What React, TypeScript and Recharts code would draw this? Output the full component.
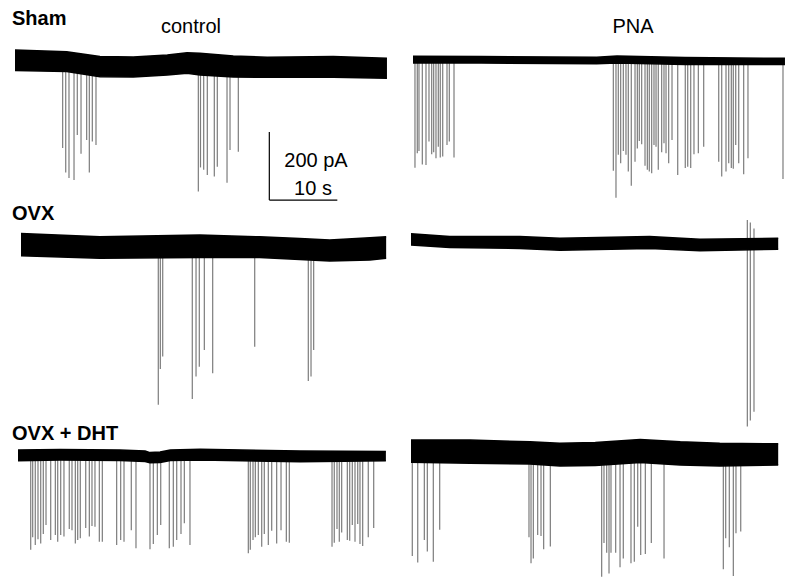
import React from "react";
import { ComposedChart, Area, XAxis, YAxis, ReferenceLine } from "recharts";

// ---------- Data (time in s, current in pA relative to holding level) ----------
// Sham / control
const shamCtrlBandT = [0, 7.6, 12.5, 17.4, 22.4, 25.3, 27.2, 32.1, 37.1, 46.8, 54.7];
const shamCtrlBandUp = [32, 27, 13, 12, 18, 24, 23, 15, 11, 13, 8];
const shamCtrlBandLo = [-28, -31, -46, -47, -41, -36, -41, -47, -48, -48, -51];
const shamCtrlSpikeT = [7.01, 7.46, 7.94, 8.68, 9.16, 9.71, 10.54, 10.93, 11.37, 11.91, 26.96, 27.28, 27.75, 28.28, 29.31, 29.75, 31.18, 31.62, 32.84];
const shamCtrlSpikeAmp = [-256, -328, -344, -350, -218, -273, -232, -328, -237, -247, -384, -313, -320, -335, -340, -311, -358, -262, -267];

// Sham / PNA
const shamPnaBandT = [0, 10, 27, 30, 40, 54.7];
const shamPnaBandUp = [11, 10, 8, 12, 7, 5];
const shamPnaBandLo = [-9, -9, -11, -9, -13, -13];
const shamPnaSpikeT = [0.29, 0.63, 0.88, 1.37, 1.91, 2.35, 2.75, 3.04, 3.38, 3.72, 4.01, 4.37, 5.0, 5.34, 6.03,
  29.46, 29.85, 30.19, 30.54, 30.93, 31.32, 31.66, 32.1, 32.65, 32.99, 33.28, 33.63, 34.12, 34.46, 34.75, 35.1, 35.44, 35.74, 36.07, 36.57,
  36.91, 37.21, 37.6, 38.09, 38.93, 40.04, 40.4, 40.84, 41.32, 41.96, 42.75, 44.96, 45.4, 46.03, 46.43, 46.81, 47.1, 47.46, 47.9, 48.63, 49.26, 54.41];
const shamPnaSpikeAmp = [-317, -274, -268, -307, -309, -240, -277, -271, -289, -255, -287, -284, -250, -240, -287,
  -326, -405, -279, -304, -268, -279, -328, -370, -299, -260, -238, -248, -311, -323, -328, -333, -250, -255, -323, -271,
  -245, -274, -304, -235, -338, -318, -314, -318, -277, -274, -255, -299, -343, -328, -304, -318, -320, -250, -304, -336, -289, -350];

// OVX / control
const ovxCtrlBandT = [0, 11.6, 26.3, 35.1, 41, 45.4, 51.3, 53.7];
const ovxCtrlBandUp = [37, 27, 32, 27, 22, 18, 24, 27];
const ovxCtrlBandLo = [-29, -36, -34, -34, -40, -44, -41, -36];
const ovxCtrlSpikeT = [20.19, 20.49, 20.84, 25.19, 25.74, 26.22, 26.96, 28.19, 34.37, 42.25, 42.65, 43.04];
const ovxCtrlSpikeAmp = [-467, -362, -325, -450, -384, -355, -306, -374, -296, -397, -384, -306];

// OVX / PNA
const ovxPnaBandT = [0, 5.7, 16, 21.9, 35.1, 42.5, 54];
const ovxPnaBandUp = [24, 16, 16, 11, 16, 8, 11];
const ovxPnaBandLo = [-9, -16, -19, -24, -19, -26, -21];
const ovxPnaSpikeT = [49.46, 49.9, 50.44];
const ovxPnaSpikeAmp = [-543, -525, -499];
const ovxPnaSpikeTop = [65, 57, 40];

// OVX + DHT / control
const dhtCtrlBandT = [0, 6.2, 15, 18.7, 19.4, 20.9, 22.4, 26.8, 41.5, 54.1];
const dhtCtrlBandUp = [15, 16, 15, 12, 7, 9, 15, 17, 12, 10];
const dhtCtrlBandLo = [-17, -15, -16, -19, -23, -22, -16, -15, -20, -17];
const dhtCtrlSpikeT = [1.87, 2.16, 2.54, 2.94, 3.34, 3.72, 4.12, 4.81, 5.49, 5.84, 6.28, 6.76, 7.54, 7.94, 8.43, 8.78, 9.16, 9.96, 10.49, 10.88,
  11.32, 11.96, 12.4, 14.51, 15.1, 15.59, 16.66, 17.35, 19.41, 19.9, 20.49, 20.99, 22.25, 22.84, 23.34, 23.97, 24.46, 25.29,
  33.87, 34.16, 34.56, 34.9, 35.34, 35.84, 36.22, 36.81, 37.31, 38.04, 38.68, 39.46, 39.9,
  46.18, 46.51, 46.91, 47.25, 47.6, 48.43, 48.78, 49.16, 49.56, 49.96, 50.29, 50.69, 51.51, 52.31];
const dhtCtrlSpikeAmp = [-279, -242, -265, -248, -260, -232, -206, -250, -235, -255, -235, -240, -218, -221, -260, -250, -245, -215, -240, -209,
  -211, -255, -255, -265, -250, -255, -221, -274, -277, -262, -235, -206, -274, -270, -250, -232, -201, -265,
  -289, -279, -250, -242, -235, -270, -232, -265, -223, -260, -221, -255, -258,
  -270, -258, -218, -255, -228, -250, -252, -206, -255, -203, -262, -268, -242, -215];

// OVX + DHT / PNA
const dhtPnaBandT = [0, 8.7, 17.5, 21.9, 27.1, 33.7, 39.6, 45.4, 54];
const dhtPnaBandUp = [35, 35, 30, 26, 28, 37, 30, 26, 24];
const dhtPnaBandLo = [-30, -33, -35, -41, -40, -31, -38, -41, -38];
const dhtPnaSpikeT = [0.19, 0.99, 1.96, 2.4, 3.28, 4.22, 17.35, 17.65, 17.99, 18.63, 19.12, 19.51, 20.49,
  28.04, 28.38, 28.78, 29.12, 29.41, 30.1, 30.74, 31.22, 32.35, 32.84, 33.34, 33.78, 34.46, 35.34, 37.21,
  45.93, 46.28, 46.81, 47.4, 47.79, 48.49];
const dhtPnaSpikeAmp = [-306, -325, -259, -293, -323, -229, -251, -327, -313, -244, -247, -286, -278,
  -367, -268, -296, -357, -296, -296, -339, -313, -327, -323, -220, -303, -300, -268, -313,
  -345, -254, -280, -365, -239, -234];

// Scale bar
const scaleBarPA = 200;
const scaleBarS = 10;

// ---------- Layout ----------
const PX_PER_S = 6.8;
const PX_PER_PA = 0.34;
const T_MAX = 55;
const PA_MIN = -600;
const PA_MAX = 100;
const W = T_MAX * PX_PER_S;
const H = (PA_MAX - PA_MIN) * PX_PER_PA;
const FONT = "'Liberation Sans', Arial, Helvetica, sans-serif";
const SPIKE = "#7c7c7c";

type TraceProps = {
  left: number;
  top: number;
  bandT: number[];
  bandUp: number[];
  bandLo: number[];
  spikeT: number[];
  spikeAmp: number[];
  spikeTop?: number[];
  extra?: React.ReactNode;
};

function axes() {
  return [
    <XAxis key="x" type="number" dataKey="t" domain={[0, T_MAX]} hide allowDataOverflow />,
    <YAxis key="y" type="number" domain={[PA_MIN, PA_MAX]} hide allowDataOverflow />,
  ];
}

function Trace({ left, top, bandT, bandUp, bandLo, spikeT, spikeAmp, spikeTop, extra }: TraceProps) {
  const data = bandT.map((t, i) => ({ t, band: [bandLo[i], bandUp[i]] }));
  const box: React.CSSProperties = { position: "absolute", left, top, width: W, height: H };
  const margin = { top: 0, right: 0, bottom: 0, left: 0 };
  return (
    <>
      <div style={box}>
        <ComposedChart width={W} height={H} data={data} margin={margin}>
          {axes()}
          {spikeT.map((t, i) => (
            <ReferenceLine
              key={i}
              segment={[{ x: t, y: spikeTop ? spikeTop[i] : 0 }, { x: t, y: spikeAmp[i] }]}
              stroke={SPIKE}
              strokeWidth={1.2}
            />
          ))}
          {extra}
        </ComposedChart>
      </div>
      <div style={box}>
        <ComposedChart width={W} height={H} data={data} margin={margin}>
          {axes()}
          <Area
            dataKey="band"
            type="linear"
            stroke="#000"
            strokeWidth={1.5}
            fill="#000"
            fillOpacity={1}
            dot={false}
            activeDot={false}
            isAnimationActive={false}
          />
        </ComposedChart>
      </div>
    </>
  );
}

export default function App() {
  const sbT = 37.4;
  const sbY = -409;
  const scaleBar = [
    <ReferenceLine key="sbv" segment={[{ x: sbT, y: sbY }, { x: sbT, y: sbY + scaleBarPA }]} stroke="#000" strokeWidth={1.2} />,
    <ReferenceLine key="sbh" segment={[{ x: sbT, y: sbY }, { x: sbT + scaleBarS, y: sbY }]} stroke="#000" strokeWidth={1.2} />,
  ];
  return (
    <div style={{ position: "absolute", left: 0, top: 0, width: 785, height: 577, overflow: "hidden", background: "#fff" }}>
      <Trace left={15} top={27} bandT={shamCtrlBandT} bandUp={shamCtrlBandUp} bandLo={shamCtrlBandLo}
        spikeT={shamCtrlSpikeT} spikeAmp={shamCtrlSpikeAmp} extra={scaleBar} />
      <Trace left={413} top={26} bandT={shamPnaBandT} bandUp={shamPnaBandUp} bandLo={shamPnaBandLo}
        spikeT={shamPnaSpikeT} spikeAmp={shamPnaSpikeAmp} />
      <Trace left={21} top={212} bandT={ovxCtrlBandT} bandUp={ovxCtrlBandUp} bandLo={ovxCtrlBandLo}
        spikeT={ovxCtrlSpikeT} spikeAmp={ovxCtrlSpikeAmp} />
      <Trace left={411} top={208} bandT={ovxPnaBandT} bandUp={ovxPnaBandUp} bandLo={ovxPnaBandLo}
        spikeT={ovxPnaSpikeT} spikeAmp={ovxPnaSpikeAmp} spikeTop={ovxPnaSpikeTop} />
      <Trace left={18} top={421} bandT={dhtCtrlBandT} bandUp={dhtCtrlBandUp} bandLo={dhtCtrlBandLo}
        spikeT={dhtCtrlSpikeT} spikeAmp={dhtCtrlSpikeAmp} />
      <Trace left={411} top={418} bandT={dhtPnaBandT} bandUp={dhtPnaBandUp} bandLo={dhtPnaBandLo}
        spikeT={dhtPnaSpikeT} spikeAmp={dhtPnaSpikeAmp} />
      <svg width={785} height={577} style={{ position: "absolute", left: 0, top: 0, pointerEvents: "none" }}>
        <g fontFamily={FONT} fill="#000">
          <text x={12} y={25} fontSize={20} fontWeight="bold">Sham</text>
          <text x={12} y={220} fontSize={20} fontWeight="bold">OVX</text>
          <text x={12} y={440} fontSize={20} fontWeight="bold">OVX + DHT</text>
          <text x={191} y={33} fontSize={20} textAnchor="middle">control</text>
          <text x={633} y={33} fontSize={20} textAnchor="middle">PNA</text>
          <text x={316} y={167} fontSize={20} textAnchor="middle">200 pA</text>
          <text x={313} y={195} fontSize={20} textAnchor="middle">10 s</text>
        </g>
      </svg>
    </div>
  );
}
